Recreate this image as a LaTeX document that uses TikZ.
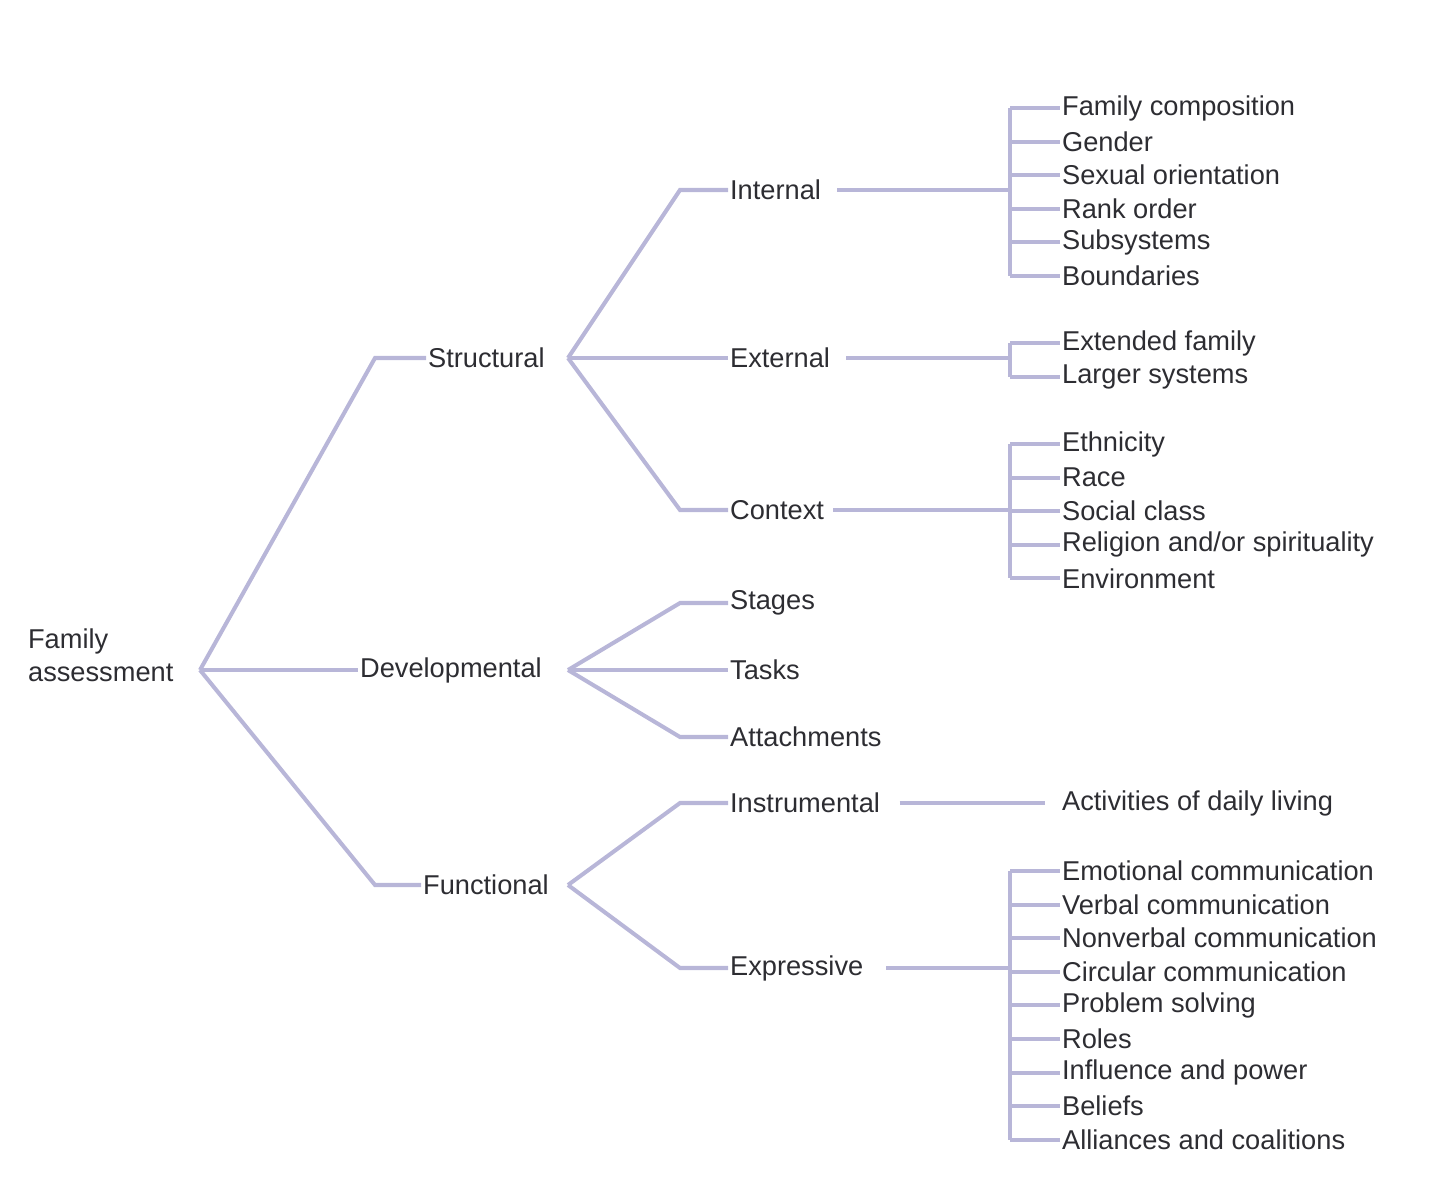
\documentclass[tikz,border=0pt]{standalone}
\usepackage{fontspec}
\setmainfont{Liberation Sans}
\usetikzlibrary{positioning}
\definecolor{linkcol}{RGB}{184,182,216}
\definecolor{txtcol}{RGB}{45,45,50}
\begin{document}
\begin{tikzpicture}[x=0.02cm,y=-0.02cm,
  branch/.style={draw=linkcol,line width=2.3pt},
  lbl/.style={anchor=west,inner sep=1pt,text=txtcol,font=\fontsize{15.5}{19}\selectfont}]
\useasboundingbox (0,0) rectangle (1440,1200);
% main levels
\node[lbl,align=left] (root) at (26,655) {Family\\assessment};
\node[lbl] (struct) at (426,358) {Structural};
\node[lbl] (devel) at (358,670) {Developmental};
\node[lbl] (funct) at (421,885) {Functional};
\coordinate (r0) at (200,670);
\draw[branch] (r0) -- (375,358) -- (struct.west);
\draw[branch] (r0) -- (devel.west);
\draw[branch] (r0) -- (375,885) -- (funct.west);
% second level
\node[lbl] (internal) at (728,190) {Internal};
\node[lbl] (external) at (728,358) {External};
\node[lbl] (context) at (728,510) {Context};
\node[lbl] (stages) at (728,603) {Stages};
\node[lbl] (tasks) at (728,670) {Tasks};
\node[lbl] (attach) at (728,737) {Attachments};
\node[lbl] (instr) at (728,803) {Instrumental};
\node[lbl] (expr) at (728,968) {Expressive};
\coordinate (s0) at (568,358);
\draw[branch] (s0) -- (680,190) -- (internal.west);
\draw[branch] (s0) -- (external.west);
\draw[branch] (s0) -- (680,510) -- (context.west);
\coordinate (d0) at (568,670);
\draw[branch] (d0) -- (680,603) -- (stages.west);
\draw[branch] (d0) -- (tasks.west);
\draw[branch] (d0) -- (680,737) -- (attach.west);
\coordinate (f0) at (568,885);
\draw[branch] (f0) -- (680,803) -- (instr.west);
\draw[branch] (f0) -- (680,968) -- (expr.west);
% third level
\node[lbl] (adl) at (1060,803) {Activities of daily living};
\draw[branch] ([xshift=10]instr.east) -- (1045,803);
\draw[branch] ([xshift=8]internal.east) -- (1010,190);
\draw[branch] ([xshift=8]external.east) -- (1010,358);
\draw[branch] ([xshift=4]context.east) -- (1010,510);
\draw[branch] ([xshift=12]expr.east) -- (1010,968);
\foreach \txt [count=\i] in {Family composition,Gender,Sexual orientation,
  Rank order,Subsystems,Boundaries}
  {\node[lbl] (int\i) at (1060,{108+33.6*(\i-1)}) {\txt};
   \draw[branch] (1010,{108+33.6*(\i-1)}) -- (int\i.west);}
\draw[branch] (1010,108) -- (1010,276);
\foreach \txt [count=\i] in {Extended family,Larger systems}
  {\node[lbl] (ext\i) at (1060,{343+34*(\i-1)}) {\txt};
   \draw[branch] (1010,{343+34*(\i-1)}) -- (ext\i.west);}
\draw[branch] (1010,343) -- (1010,377);
\foreach \txt [count=\i] in {Ethnicity,Race,Social class,
  Religion and/or spirituality,Environment}
  {\node[lbl] (ctx\i) at (1060,{444+33.6*(\i-1)}) {\txt};
   \draw[branch] (1010,{444+33.6*(\i-1)}) -- (ctx\i.west);}
\draw[branch] (1010,444) -- (1010,578);
\foreach \txt [count=\i] in {Emotional communication,Verbal communication,
  Nonverbal communication,Circular communication,Problem solving,Roles,
  Influence and power,Beliefs,Alliances and coalitions}
  {\node[lbl] (exp\i) at (1060,{871+33.6*(\i-1)}) {\txt};
   \draw[branch] (1010,{871+33.6*(\i-1)}) -- (exp\i.west);}
\draw[branch] (1010,871) -- (1010,1140);
\end{tikzpicture}
\end{document}
